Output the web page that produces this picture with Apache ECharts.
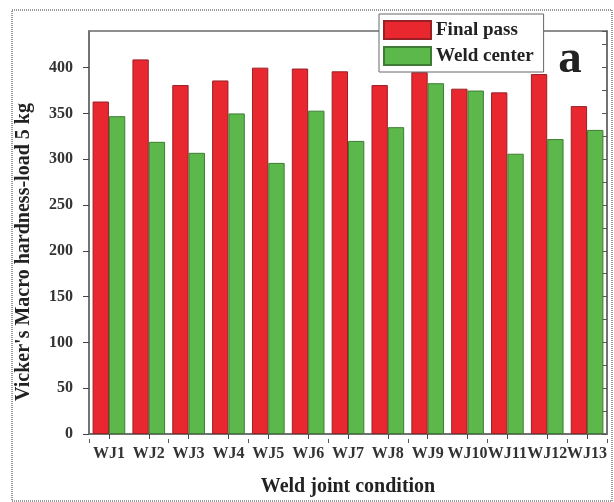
<!DOCTYPE html>
<html>
<head>
<meta charset="utf-8">
<script src="https://cdn.jsdelivr.net/npm/echarts@6/dist/echarts.min.js"></script>
<style>
  html, body { margin: 0; padding: 0; background: #fff; }
  #chart { width: 614px; height: 502px; }
</style>
</head>
<body>
<div id="chart"></div>
<script>
// Vickers macro hardness (HV, 5 kg load) per weld joint
const categories = ['WJ1', 'WJ2', 'WJ3', 'WJ4', 'WJ5', 'WJ6', 'WJ7', 'WJ8', 'WJ9', 'WJ10', 'WJ11', 'WJ12', 'WJ13'];
const finalPass = [363, 409, 381, 386, 400, 399, 396, 381, 395, 377, 373, 393, 358];
const weldCenter = [347, 319, 307, 350, 296, 353, 320, 335, 383, 375, 306, 322, 332];
const yTicks = [0, 50, 100, 150, 200, 250, 300, 350, 400];

const serif = '"Liberation Serif", "DejaVu Serif", serif';
const axisColor = '#6a6a6a';

const chart = echarts.init(document.getElementById('chart'));
const gridTop = 31, gridBottom = 63;
const gridHeight = 502 - gridTop - gridBottom;

chart.setOption({
  animation: false,
  backgroundColor: '#fff',
  grid: {
    left: 89, right: 7, top: gridTop, bottom: gridBottom,
    show: true, borderColor: axisColor, borderWidth: 1.5, backgroundColor: 'transparent'
  },
  legend: {
    orient: 'vertical',
    left: 379, top: 14,
    padding: [6, 10, 6, 4],
    itemGap: 6,
    itemWidth: 47, itemHeight: 18,
    backgroundColor: '#fff',
    borderColor: '#666', borderWidth: 1,
    icon: 'rect',
    textStyle: { fontFamily: serif, fontWeight: 'bold', fontSize: 19, lineHeight: 18, color: '#222' },
    data: ['Final pass', 'Weld center']
  },
  xAxis: [
    {
      type: 'category',
      data: categories,
      position: 'bottom',
      axisLine: { show: true, lineStyle: { color: axisColor, width: 1.5 } },
      axisTick: { show: true, alignWithLabel: true, length: 5, lineStyle: { color: '#444' } },
      axisLabel: {
        interval: 0, margin: 12,
        fontFamily: serif, fontWeight: 'bold', fontSize: 16, color: '#333'
      },
      name: 'Weld joint condition',
      nameLocation: 'middle',
      nameGap: 43,
      nameTextStyle: { fontFamily: serif, fontWeight: 'bold', fontSize: 20, color: '#222' }
    },
    {
      // boundary ticks between categories, moved down onto the bottom edge
      type: 'category',
      data: categories,
      position: 'top',
      offset: -gridHeight,
      axisLine: { show: false },
      axisTick: { show: true, inside: true, length: 4, lineStyle: { color: '#555' } },
      axisLabel: { show: false }
    }
  ],
  yAxis: [
    {
      type: 'value',
      min: 0, max: 440, interval: 50,
      position: 'left',
      splitLine: { show: false },
      axisLine: { show: true, lineStyle: { color: axisColor, width: 1.5 } },
      axisTick: { show: true, length: 6, lineStyle: { color: '#444' } },
      axisLabel: {
        margin: 16, showMaxLabel: false,
        formatter: v => (yTicks.indexOf(v) >= 0 ? String(v) : ''),
        fontFamily: serif, fontWeight: 'bold', fontSize: 16, color: '#333'
      }
    },
    {
      type: 'value',
      min: 0, max: 440, interval: 25,
      position: 'right',
      splitLine: { show: false },
      axisLine: { show: true, lineStyle: { color: axisColor, width: 1.5 } },
      axisTick: { show: true, inside: true, length: 5, lineStyle: { color: '#555' } },
      axisLabel: { show: false }
    }
  ],
  series: [
    {
      name: 'Final pass',
      type: 'bar',
      data: finalPass,
      barGap: '0%',
      barCategoryGap: '18%',
      itemStyle: { color: '#e8272f', borderColor: '#9a2025', borderWidth: 1 }
    },
    {
      name: 'Weld center',
      type: 'bar',
      data: weldCenter,
      barGap: '0%',
      barCategoryGap: '18%',
      itemStyle: { color: '#5cb84b', borderColor: '#3d7d33', borderWidth: 1 }
    }
  ],
  graphic: [
    {
      type: 'rect',
      left: 11, top: 9,
      shape: { width: 600, height: 491 },
      style: { fill: 'transparent', stroke: '#999', lineWidth: 2, lineDash: [1, 1] },
      silent: true
    },
    {
      // y-axis title
      type: 'text',
      x: 24, y: 252,
      rotation: Math.PI / 2,
      style: {
        text: "Vicker's Macro hardness-load 5 kg",
        font: 'bold 20px ' + serif,
        fill: '#222',
        textAlign: 'center',
        textVerticalAlign: 'middle'
      }
    },
    {
      // panel letter
      type: 'text',
      x: 570, y: 60,
      style: {
        text: 'a',
        font: 'bold 47px ' + serif,
        fill: '#222',
        textAlign: 'center',
        textVerticalAlign: 'middle'
      },
      z: 10
    }
  ]
});
</script>
</body>
</html>
